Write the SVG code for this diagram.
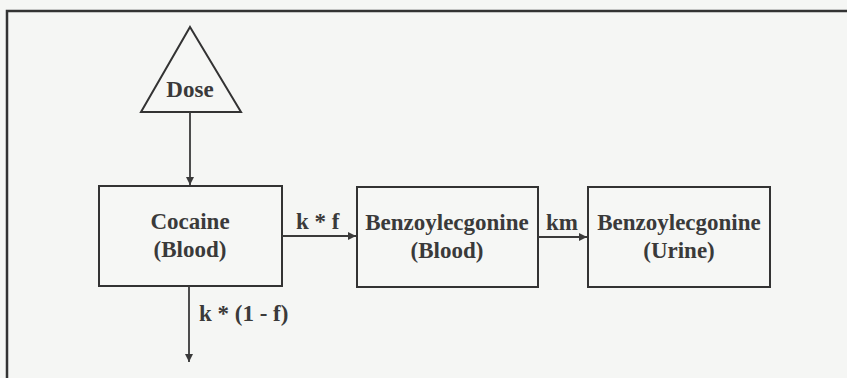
<svg xmlns="http://www.w3.org/2000/svg" width="847" height="378" viewBox="0 0 847 378">
  <defs>
    <marker id="arrow" viewBox="0 0 10 10" refX="10" refY="5" markerWidth="10" markerHeight="8" markerUnits="userSpaceOnUse" orient="auto">
      <path d="M0,0 L10,5 L0,10 Z" fill="#3a3a3a"/>
    </marker>
  </defs>
  <style>
    .bg { fill: #f5f6f4; }
    .frame { fill: none; stroke: #333; stroke-width: 2.5; }
    .shape { fill: #f6f7f5; stroke: #333; stroke-width: 2; }
    .edge { fill: none; stroke: #3a3a3a; stroke-width: 1.8; marker-end: url(#arrow); }
    text { font-family: "Liberation Serif", "Times New Roman", serif; font-weight: bold; font-size: 23px; fill: #3a3a3a; }
    .c { text-anchor: middle; }
  </style>

  <rect class="bg" x="0" y="0" width="847" height="378"/>
  <!-- outer frame, open past the right and bottom edges -->
  <path class="frame" d="M7,380 L7,11 L850,11"/>

  <g id="dose">
    <polygon class="shape" points="190,27 241,112 141,112"/>
    <text class="c" x="190" y="97">Dose</text>
  </g>

  <g id="cocaine-blood">
    <rect class="shape" x="99" y="186" width="183" height="100"/>
    <text class="c" x="190" y="229">Cocaine</text>
    <text class="c" x="190" y="257">(Blood)</text>
  </g>

  <g id="be-blood">
    <rect class="shape" x="357" y="187" width="181" height="100"/>
    <text class="c" x="447" y="230">Benzoylecgonine</text>
    <text class="c" x="447" y="258">(Blood)</text>
  </g>

  <g id="be-urine">
    <rect class="shape" x="588" y="187" width="182" height="100"/>
    <text class="c" x="679" y="230">Benzoylecgonine</text>
    <text class="c" x="679" y="258">(Urine)</text>
  </g>

  <g id="connectors">
    <line class="edge" x1="190" y1="112" x2="190" y2="185"/>
    <line class="edge" x1="282" y1="236" x2="356" y2="236"/>
    <line class="edge" x1="538" y1="237" x2="587" y2="237"/>
    <line class="edge" x1="189" y1="286" x2="189" y2="362"/>
    <text x="296" y="229">k * f</text>
    <text x="546" y="230">km</text>
    <text x="199" y="321">k * (1 - f)</text>
  </g>
</svg>
